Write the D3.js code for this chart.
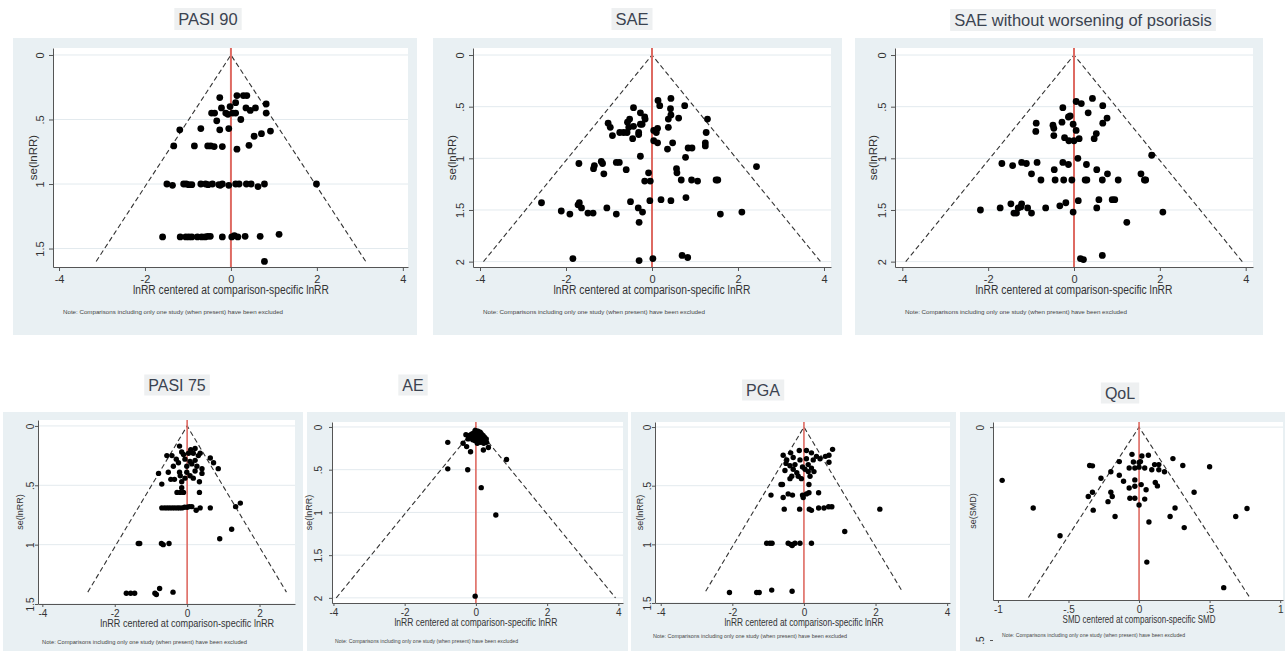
<!DOCTYPE html>
<html>
<head>
<meta charset="utf-8">
<script src="https://cdn.jsdelivr.net/npm/d3@7"></script>
<style>
  body { margin: 0; background: #fff; }
  text { font-family: "Liberation Sans", Arial, sans-serif; }
</style>
</head>
<body>
<svg id="chart" width="1285" height="651"></svg>
<script>
// ---- DATA: [centered effect, standard error] per comparison ----
const pasi90 = [
  [-0.26,0.33],[0.14,0.315],[0.29,0.315],[0.37,0.315],
  [0.11,0.37],[0.82,0.38],[-0.02,0.40],[-0.22,0.41],[0.35,0.41],[0.57,0.41],[0.45,0.43],
  [-0.45,0.45],[-0.38,0.45],[-0.12,0.45],[-0.07,0.46],[0.04,0.45],[0.11,0.45],[0.82,0.45],
  [-0.33,0.51],[0.23,0.50],
  [-1.19,0.58],[-0.70,0.57],[-0.26,0.58],[-0.05,0.57],[0.92,0.59],[0.71,0.61],[0.54,0.63],
  [-1.33,0.705],[-0.85,0.705],[-0.54,0.705],[-0.47,0.705],[-0.39,0.71],[-0.20,0.71],[0.14,0.73],[0.42,0.70],
  [-1.49,1.0],[-1.36,1.01],[-1.10,1.0],[-1.04,1.0],[-0.98,1.005],[-0.91,1.005],[-0.70,1.0],[-0.59,1.0],
  [-0.53,1.005],[-0.43,1.0],[-0.28,1.005],[-0.25,1.01],[-0.20,1.0],[-0.05,1.01],[0.11,1.0],[0.19,1.0],
  [0.36,1.0],[0.47,1.0],[0.63,1.02],[0.78,1.0],[1.99,1.0],
  [-1.59,1.41],[-1.18,1.41],[-1.05,1.41],[-0.98,1.41],[-0.91,1.41],[-0.78,1.41],[-0.68,1.41],[-0.60,1.41],
  [-0.54,1.405],[-0.48,1.405],[-0.20,1.41],[0.02,1.41],[0.08,1.40],[0.16,1.41],[0.33,1.405],[0.68,1.405],[1.12,1.39],
  [0.78,1.60]
];

const sae = [
  [0.44,0.42],[0.14,0.44],[0.18,0.49],[-0.43,0.51],[0.43,0.52],[0.76,0.49],[-0.27,0.56],[0.44,0.58],
  [-0.17,0.60],[-0.16,0.62],[-0.52,0.62],[-0.57,0.65],[0.38,0.62],[0.62,0.61],[1.29,0.62],
  [-1.02,0.66],[-0.97,0.70],[-0.27,0.67],[-0.23,0.67],[-0.43,0.69],[-0.54,0.70],[0.13,0.71],
  [0.04,0.73],[0.10,0.75],[0.38,0.70],[-0.75,0.75],[-0.66,0.75],[-0.58,0.75],[-0.92,0.78],
  [-0.31,0.75],[-0.31,0.77],[-0.45,0.81],[1.26,0.75],[0.04,0.83],[0.13,0.85],[0.48,0.85],
  [0.36,0.91],[0.84,0.90],[0.93,0.90],[1.24,0.85],[1.24,0.88],[-0.27,0.98],[0.78,0.99],
  [-0.83,1.04],[-0.76,1.04],[-1.18,1.03],[-1.15,1.05],[-1.70,1.05],[-1.34,1.07],[-1.36,1.10],
  [-1.12,1.15],[-0.60,1.11],[-0.08,1.14],[0.57,1.10],[0.58,1.14],[2.43,1.08],
  [-0.17,1.22],[-0.04,1.22],[0.68,1.21],[0.92,1.21],[1.06,1.22],[1.49,1.21],[1.53,1.21],
  [-2.57,1.43],[-1.69,1.43],[-1.72,1.45],[-1.64,1.48],[-2.11,1.51],[-1.91,1.54],[-1.49,1.53],
  [-1.37,1.53],[-1.05,1.48],[-0.83,1.54],[-0.50,1.42],[-0.32,1.48],[-0.22,1.52],[-0.30,1.62],
  [-0.05,1.41],[0.21,1.40],[0.44,1.41],[0.79,1.38],[1.59,1.54],[2.09,1.52],
  [-1.84,1.97],[-0.30,1.99],[0.02,1.97],[0.70,1.94],[0.83,1.96]
];

const saeNoPso = [
  [0.43,0.42],[0.05,0.45],[0.17,0.47],[0.67,0.49],[-0.26,0.51],[0.33,0.56],[-0.09,0.59],[-0.13,0.60],
  [0.77,0.61],[-0.88,0.66],[-0.28,0.65],[-0.02,0.67],[0.67,0.66],[-0.49,0.68],[-0.47,0.71],[0.05,0.73],
  [-0.89,0.74],[0.52,0.76],[-0.47,0.78],[0.47,0.81],[-0.22,0.80],[-0.12,0.83],[0.0,0.83],[0.12,0.81],
  [1.81,0.97],[0.09,1.00],[-1.68,1.05],[-1.43,1.07],[-1.22,1.04],[-1.11,1.05],[-0.86,1.04],[-0.26,1.04],
  [-0.13,1.06],[0.29,1.06],[-0.46,1.11],[-0.99,1.15],[0.53,1.11],[0.78,1.15],[1.56,1.15],
  [-0.77,1.21],[-0.44,1.21],[-0.24,1.21],[-0.05,1.21],[0.26,1.21],[0.30,1.21],[0.66,1.21],[1.03,1.21],
  [1.64,1.21],[1.67,1.21],
  [-2.18,1.50],[-1.72,1.48],[-1.47,1.44],[-1.22,1.44],[-1.24,1.47],[-1.30,1.48],[-1.40,1.53],[-1.34,1.53],
  [-1.08,1.48],[-0.99,1.53],[-0.66,1.48],[-0.33,1.46],[-0.19,1.43],[-0.02,1.52],[0.10,1.41],[0.58,1.40],
  [0.89,1.40],[0.95,1.40],[0.53,1.48],[2.07,1.52],[1.23,1.62],
  [0.15,1.97],[0.22,1.98],[0.66,1.94]
];

const pasi75 = [
  [-0.21,0.17],[-0.56,0.25],[-0.42,0.25],[-0.15,0.22],[-0.10,0.24],[0.04,0.23],[0.10,0.20],[0.17,0.23],
  [0.22,0.19],[0.36,0.23],[0.31,0.25],[0.64,0.27],[0.73,0.31],[0.86,0.36],
  [-0.30,0.28],[-0.24,0.31],[-0.06,0.28],[0.08,0.30],[0.22,0.29],
  [-0.38,0.34],[-0.01,0.34],[0.13,0.32],[0.27,0.34],
  [-0.52,0.39],[-0.21,0.39],[-0.01,0.39],[0.22,0.38],[0.41,0.36],[-0.79,0.40],
  [-0.19,0.42],[-0.06,0.44],[0.08,0.42],[0.17,0.44],[0.41,0.40],
  [-0.45,0.45],[-0.35,0.45],[-0.15,0.47],[-0.15,0.52],[-0.70,0.49],[0.34,0.47],
  [-0.28,0.56],[-0.19,0.56],[-0.10,0.56],[0.34,0.56],
  [-0.70,0.69],[-0.62,0.69],[-0.55,0.69],[-0.48,0.69],[-0.41,0.69],[-0.34,0.69],[-0.27,0.69],[-0.21,0.69],
  [-0.14,0.69],[-0.07,0.685],[0.0,0.685],[0.06,0.68],[0.13,0.68],[0.36,0.69],[0.64,0.69],[0.25,0.71],
  [1.34,0.68],[1.47,0.65],[1.23,0.87],[0.90,0.95],
  [-1.35,0.99],[-1.31,0.99],[-0.71,0.99],[-0.66,1.0],[-0.50,0.99],
  [-1.68,1.41],[-1.56,1.41],[-1.45,1.41],[-0.89,1.41],[-0.85,1.42],[-0.76,1.37],[-0.39,1.40]
];

const ae = [
  [-0.02,0.04],[0.02,0.05],[0.06,0.05],[-0.05,0.07],[0.0,0.07],[0.04,0.08],[0.09,0.07],[0.12,0.06],
  [0.15,0.08],[-0.10,0.08],[-0.14,0.09],[-0.08,0.10],[-0.03,0.10],[0.02,0.10],[0.07,0.11],[0.11,0.10],
  [0.16,0.11],[0.20,0.10],[0.24,0.12],[-0.18,0.10],[-0.12,0.12],[-0.06,0.13],[0.0,0.13],[0.05,0.14],
  [0.10,0.13],[0.14,0.14],[0.19,0.15],[0.25,0.15],[0.29,0.14],[-0.22,0.14],[-0.02,0.16],[0.08,0.17],
  [0.13,0.18],[0.04,0.19],[0.18,0.17],[-0.09,0.15],[0.22,0.19],[0.30,0.18],
  [-0.79,0.18],[-0.79,0.49],[-0.23,0.50],[-0.28,0.09],[-0.36,0.19],[-0.26,0.23],[-0.15,0.29],
  [0.21,0.27],[0.35,0.24],[0.86,0.38],[0.15,0.71],[0.56,1.03],[-0.02,1.98]
];

const pga = [
  [-0.58,0.24],[-0.37,0.22],[-0.13,0.20],[0.07,0.20],[0.21,0.22],[0.80,0.19],
  [0.70,0.24],[0.60,0.25],[0.45,0.27],[0.35,0.25],
  [-0.48,0.28],[-0.30,0.26],[-0.11,0.28],[0.07,0.27],[0.26,0.28],[0.70,0.30],
  [-0.50,0.31],[-0.39,0.33],[-0.25,0.32],[-0.04,0.34],[0.12,0.32],[0.21,0.35],
  [-0.53,0.37],[-0.30,0.36],[-0.20,0.39],[0.03,0.36],[0.12,0.38],[0.28,0.38],
  [-0.34,0.42],[-0.16,0.42],[-0.39,0.44],[-0.07,0.44],[0.17,0.42],
  [-0.64,0.49],[-0.60,0.49],[0.14,0.49],
  [-0.92,0.58],[-0.44,0.57],[-0.32,0.58],[-0.58,0.60],[-0.04,0.58],[0.07,0.57],[0.14,0.56],[0.41,0.56],[-0.02,0.60],
  [-0.55,0.70],[-0.12,0.70],[0.15,0.70],[0.21,0.71],[0.41,0.69],[0.56,0.69],[0.69,0.68],[0.78,0.68],[2.12,0.70],
  [1.14,0.89],
  [-1.04,0.99],[-0.95,0.99],[-0.89,0.99],[-0.44,0.99],[-0.37,1.0],[-0.31,1.0],[-0.25,0.99],[-0.11,0.99],
  [0.21,0.99],[-0.33,1.01],
  [-2.08,1.41],[-1.32,1.41],[-1.25,1.41],[-0.90,1.39],[-0.33,1.40]
];

const qol = [
  [-0.97,0.125],[-0.75,0.19],[-0.56,0.255],[0.055,0.317],[0.60,0.377],
  [-0.05,0.064],[0.02,0.068],[0.066,0.066],[0.24,0.074],[-0.14,0.081],[-0.04,0.082],[0.0,0.083],[0.01,0.081],
  [0.11,0.088],[0.14,0.088],[0.31,0.09],[0.50,0.093],[-0.35,0.09],[-0.33,0.091],
  [-0.07,0.096],[-0.03,0.096],[0.0,0.094],[0.04,0.096],[0.09,0.10],[0.14,0.10],[0.18,0.105],
  [-0.20,0.105],[-0.14,0.113],[-0.27,0.12],[-0.11,0.127],[-0.03,0.124],[0.115,0.13],[0.13,0.138],
  [0.015,0.135],[-0.07,0.143],[-0.03,0.139],[0.05,0.147],[-0.33,0.153],[-0.20,0.153],[-0.19,0.163],
  [-0.36,0.163],[0.39,0.153],[-0.065,0.167],[-0.03,0.167],[0.04,0.169],[-0.22,0.175],[0.0,0.183],
  [-0.325,0.195],[0.255,0.19],[0.765,0.191],[-0.17,0.21],[0.22,0.21],[0.685,0.21],[0.07,0.223],[0.32,0.236]
];

// funnel drawn down to this standard error in each panel
const funnelMaxSe = [1.6, 2, 2, 1.4, 2, 1.4, 0.4];

// tick labels
const xTicksLnRR = [-4, -2, 0, 2, 4];
const xTicksPasi75 = [-4, -2, 0, 2];
const xTicksSmd = [-1, -0.5, 0, 0.5, 1];
const yTicksTo15 = [0, 0.5, 1, 1.5];
const yTicksTo2 = [0, 0.5, 1, 1.5, 2];
const yTicksSmd = [0, 0.5];

const titles = ["PASI 90", "SAE", "SAE without worsening of psoriasis", "PASI 75", "AE", "PGA", "QoL"];
const xLabelRR = "lnRR centered at comparison-specific lnRR";
const xLabelSmd = "SMD centered at comparison-specific SMD";
const noteText = "Note: Comparisons including only one study (when present) have been excluded";

// ---- LAYOUT ----
const BIG = { title: 16.5, tick: 11, label: 12.5, yTitle: 11.5, note: 6.2, r: 3.4, red: 2, tickLen: 4, xTickDy: 16, xLabDy: 27, noteDy: 47 };
const SMALL = { title: 16, tick: 10, label: 11, yTitle: 9, note: 5.4, r: 2.7, red: 1.6, tickLen: 3, xTickDy: 13, xLabDy: 23, noteDy: 40 };

const panels = [
  { data: pasi90, s: BIG, bg: [13, 38, 417, 335], plot: [53, 48, 408, 267], titleXY: [208, 19],
    xDom: [-4.14, 4.12], yDom: [-0.054, 1.643], xTicks: xTicksLnRR, yTicks: yTicksTo15,
    xLabel: xLabelRR, xLabW: 196, yLabel: "se(lnRR)", yLabDx: -13, yTitleDx: -20, noteX: 63, noteW: 220 },
  { data: sae, s: BIG, bg: [433, 38, 842, 335], plot: [473, 48, 831, 267], titleXY: [632, 19],
    xDom: [-4.163, 4.163], yDom: [-0.068, 2.052], xTicks: xTicksLnRR, yTicks: yTicksTo2,
    xLabel: xLabelRR, xLabW: 197, yLabel: "se(lnRR)", yLabDx: -13, yTitleDx: -21, noteX: 483, noteW: 222 },
  { data: saeNoPso, s: BIG, bg: [855, 38, 1263, 335], plot: [895, 48, 1253, 267], titleXY: [1083, 20],
    xDom: [-4.17, 4.17], yDom: [-0.068, 2.052], xTicks: xTicksLnRR, yTicks: yTicksTo2,
    xLabel: xLabelRR, xLabW: 197, yLabel: "se(lnRR)", yLabDx: -13, yTitleDx: -22, noteX: 905, noteW: 222 },
  { data: pasi75, s: SMALL, bg: [3, 412, 303, 651], plot: [38, 420, 295, 604], titleXY: [177, 385],
    xDom: [-4.12, 2.98], yDom: [-0.05, 1.5], xTicks: xTicksPasi75, yTicks: yTicksTo15,
    xLabel: xLabelRR, xLabW: 174, yLabel: "se(lnRR)", yLabDx: -8, yTitleDx: -18, noteX: 42, noteW: 205 },
  { data: ae, s: SMALL, bg: [307, 412, 628, 651], plot: [332, 422, 623, 603], titleXY: [413, 385],
    xDom: [-4.04, 4.13], yDom: [-0.058, 2.06], xTicks: xTicksLnRR, yTicks: yTicksTo2,
    xLabel: xLabelRR, xLabW: 163, yLabel: "se(lnRR)", yLabDx: -14, yTitleDx: -23, noteX: 335, noteW: 183 },
  { data: pga, s: SMALL, bg: [631, 412, 956, 651], plot: [655, 422, 950, 603], titleXY: [763, 390],
    xDom: [-4.16, 4.08], yDom: [-0.043, 1.5], xTicks: xTicksLnRR, yTicks: yTicksTo15,
    xLabel: xLabelRR, xLabW: 159, yLabel: "se(lnRR)", yLabDx: -8, yTitleDx: -15, noteX: 653, noteDy: 35, noteW: 194 },
  { data: qol, s: SMALL, bg: [960, 412, 1285, 651], plot: [993, 422, 1283, 600], titleXY: [1120, 393],
    xDom: [-1.035, 1.02], yDom: [-0.012, 0.406], xTicks: xTicksSmd, yTicks: yTicksSmd,
    xLabel: xLabelSmd, xLabW: 153, yLabel: "se(SMD)", yLabDx: -13, yTitleDx: -20, noteX: 1002, noteDy: 37, noteW: 183 }
];

const BG = "#e9f0f3";
const GRID = "#e3eaee";
const AXIS = "#555";
const TXT = "#333";
const RED = "#de6a62";

const stataFmt = d => d === 0 ? "0" : String(d).replace(/^(-?)0\./, "$1.");

const svg = d3.select("#chart");

const drawFunnel = (p, i) => {
  const [l, t, r, b] = p.plot;
  const s = p.s;
  const x = d3.scaleLinear().domain(p.xDom).range([l, r]);
  const y = d3.scaleLinear().domain(p.yDom).range([t, b]);
  const g = svg.append("g").attr("class", "panel");

  // BACKGROUND + PLOT REGION
  g.append("rect")
    .attr("x", p.bg[0]).attr("y", p.bg[1])
    .attr("width", p.bg[2] - p.bg[0]).attr("height", p.bg[3] - p.bg[1])
    .attr("fill", BG);
  g.append("rect")
    .attr("x", l).attr("y", t).attr("width", r - l).attr("height", b - t)
    .attr("fill", "#fff");

  // TITLE (with faint box)
  const title = g.append("text")
    .attr("x", p.titleXY[0]).attr("y", p.titleXY[1])
    .attr("text-anchor", "middle").attr("dominant-baseline", "central")
    .attr("font-size", s.title).attr("fill", "#3b4350")
    .text(titles[i]);
  const bb = title.node().getBBox();
  g.insert("rect", "text")
    .attr("x", bb.x - 4).attr("y", bb.y - 2)
    .attr("width", bb.width + 8).attr("height", bb.height + 4)
    .attr("fill", "#eef0f1");

  // GRID
  g.selectAll(".grid")
    .data(p.yTicks.filter(v => v >= p.yDom[0] && v <= p.yDom[1]))
    .enter().append("line")
    .attr("x1", l).attr("x2", r)
    .attr("y1", d => y(d)).attr("y2", d => y(d))
    .attr("stroke", GRID).attr("stroke-width", 1);

  // FUNNEL
  const m = funnelMaxSe[i];
  g.append("path")
    .datum([[-1.96 * m, m], [0, 0], [1.96 * m, m]])
    .attr("d", d3.line().x(d => x(d[0])).y(d => y(d[1])))
    .attr("fill", "none").attr("stroke", "#333")
    .attr("stroke-width", 1.1).attr("stroke-dasharray", "5,3");

  // REFERENCE LINE
  g.append("line")
    .attr("x1", x(0)).attr("x2", x(0)).attr("y1", t).attr("y2", b)
    .attr("stroke", RED).attr("stroke-width", s.red);

  // POINTS
  g.selectAll(".pt")
    .data(p.data)
    .enter().append("circle")
    .attr("cx", d => x(d[0])).attr("cy", d => y(d[1]))
    .attr("r", s.r).attr("fill", "#000");

  // X AXIS
  const xAxis = g.append("g")
    .attr("transform", `translate(0,${b})`)
    .call(d3.axisBottom(x).tickValues(p.xTicks).tickFormat(stataFmt)
      .tickSize(s.tickLen).tickSizeOuter(0));
  xAxis.select(".domain").attr("stroke", AXIS);
  xAxis.selectAll(".tick line").attr("stroke", AXIS);
  xAxis.selectAll("text")
    .attr("y", s.xTickDy - 4).attr("dy", "0.35em")
    .attr("font-size", s.tick).attr("fill", TXT)
    .style("font-family", "'Liberation Sans', Arial, sans-serif");

  // Y AXIS (rotated labels, Stata style)
  const yAxis = g.append("g")
    .attr("transform", `translate(${l},0)`)
    .call(d3.axisLeft(y).tickValues(p.yTicks).tickFormat(stataFmt)
      .tickSize(s.tickLen).tickSizeOuter(0));
  yAxis.select(".domain").attr("stroke", AXIS);
  yAxis.selectAll(".tick line").attr("stroke", AXIS);
  yAxis.selectAll("text")
    .attr("x", 0).attr("y", 0).attr("dy", "0.35em")
    .attr("text-anchor", "middle")
    .attr("transform", `translate(${p.yLabDx},0) rotate(-90)`)
    .attr("font-size", s.tick).attr("fill", TXT)
    .style("font-family", "'Liberation Sans', Arial, sans-serif");

  // AXIS TITLES
  g.append("text")
    .attr("x", x(0) - p.xLabW / 2).attr("y", b + s.xLabDy)
    .attr("font-size", s.label).attr("fill", TXT)
    .attr("textLength", p.xLabW).attr("lengthAdjust", "spacingAndGlyphs")
    .text(p.xLabel);
  const yc = (t + b) / 2;
  g.append("text")
    .attr("transform", `translate(${l + p.yTitleDx},${yc}) rotate(-90)`)
    .attr("text-anchor", "middle").attr("dy", "0.35em")
    .attr("font-size", s.yTitle).attr("fill", TXT)
    .text(p.yLabel);

  // NOTE
  g.append("text")
    .attr("x", p.noteX).attr("y", b + (p.noteDy || s.noteDy))
    .attr("font-size", s.note).attr("fill", "#444")
    .attr("textLength", p.noteW).attr("lengthAdjust", "spacingAndGlyphs")
    .text(noteText);
};

panels.forEach(drawFunnel);
</script>
</body>
</html>
